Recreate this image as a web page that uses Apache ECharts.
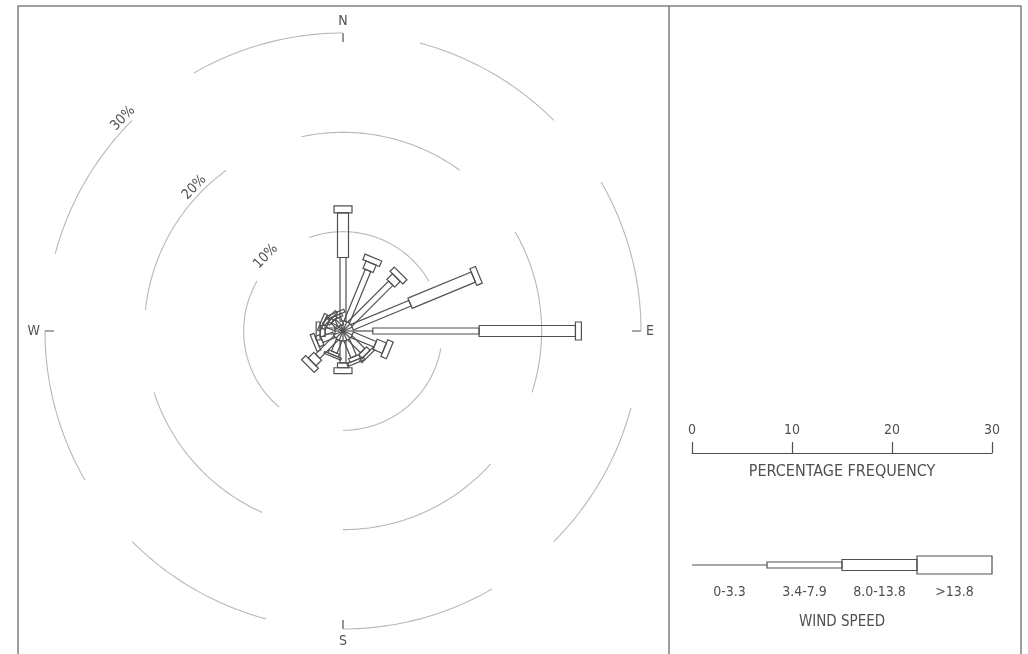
<!DOCTYPE html>
<html>
<head>
<meta charset="utf-8">
<title>Wind rose</title>
<script src="https://cdn.jsdelivr.net/npm/echarts@6/dist/echarts.min.js"></script>
<style>
    html, body { margin: 0; padding: 0; background: #fff; }
    #chart { width: 1028px; height: 654px; }
</style>
</head>
<body>
<div id="chart"></div>
<script>
// 风向 16 方位
const directions = ['N', 'NNE', 'NE', 'ENE', 'E', 'ESE', 'SE', 'SSE', 'S', 'SSW', 'SW', 'WSW', 'W', 'WNW', 'NW', 'NNW'];
// 各风速段频率 (%)
const freq0to33   = [1.0, 1.0, 1.0, 1.0, 3.0, 1.0, 1.0, 1.0, 1.0, 1.0, 1.0, 1.0, 0.8, 0.8, 0.6, 0.6];
const freq34to79  = [6.4, 5.6, 5.8, 6.3, 10.7, 2.5, 1.8, 1.8, 2.2, 1.3, 2.6, 1.3, 1.0, 0.9, 0.8, 0.8];
const freq80to138 = [4.5, 0.8, 0.8, 6.9, 9.7, 1.0, 0.5, 0.4, 0.5, 0.3, 0.8, 0.5, 0.5, 0.4, 0.3, 0.3];
const freqOver138 = [0.7, 0.6, 0.6, 0.6, 0.6, 0.6, 0.3, 0.3, 0.6, 0.2, 0.6, 0.4, 0.4, 0.3, 0.3, 0.3];
const speedClasses = ['0-3.3', '3.4-7.9', '8.0-13.8', '>13.8'];
const ringValues = [10, 20, 30];
const ringLabels = ['10%', '20%', '30%'];
const compassLabels = ['N', 'E', 'S', 'W'];
const scaleTicks = [0, 10, 20, 30];

// 样式
const INK = '#505050';
const RING = '#b8b8b8';
const FONT = "'DejaVu Sans Condensed', 'Liberation Sans Narrow', 'DejaVu Sans', sans-serif";
const classWidth = [1, 6, 11, 18];
const ringArcCount = [3, 5, 8];

// 每个方位按风速段累加
const roseData = [];
const classArrays = [freq0to33, freq34to79, freq80to138, freqOver138];
directions.forEach((d, i) => {
    const angle = i * 360 / directions.length;
    let r0 = 0;
    classArrays.forEach((arr, k) => {
        const r1 = r0 + arr[i];
        roseData.push([r1, angle, r0, k]);
        r0 = r1;
    });
});

//画一段：细线或矩形
function segmentShape(p0, p1, w, k) {
    if (k === 0) {
        return {
            type: 'line',
            shape: {x1: p0[0], y1: p0[1], x2: p1[0], y2: p1[1]},
            style: {stroke: INK, lineWidth: 1.2}
        };
    }
    const dx = p1[0] - p0[0], dy = p1[1] - p0[1];
    const len = Math.hypot(dx, dy) || 1;
    const nx = -dy / len * w / 2, ny = dx / len * w / 2;
    return {
        type: 'polygon',
        shape: {
            points: [
                [p0[0] + nx, p0[1] + ny], [p1[0] + nx, p1[1] + ny],
                [p1[0] - nx, p1[1] - ny], [p0[0] - nx, p0[1] - ny]
            ]
        },
        style: {fill: 'none', stroke: INK, lineWidth: 1.2}
    };
}

const chart = echarts.init(document.getElementById('chart'));

const option = {
    animation: false,
    backgroundColor: '#fff',
    textStyle: {fontFamily: FONT},
    polar: {center: [343, 331], radius: 298},
    angleAxis: {
        type: 'value', min: 0, max: 360, interval: 90,
        startAngle: 90, clockwise: true,
        axisLine: {show: false},
        splitLine: {show: false},
        axisTick: {show: true, inside: true, length: 9, lineStyle: {color: INK, width: 1.2}},
        axisLabel: {
            margin: 5, color: INK, fontSize: 14, fontFamily: FONT,
            formatter: v => (v < 360 ? compassLabels[v / 90] : '')
        }
    },
    radiusAxis: {
        type: 'value', min: 0, max: ringValues[ringValues.length - 1],
        axisLine: {show: false}, axisTick: {show: false},
        axisLabel: {show: false}, splitLine: {show: false}
    },
    grid: [
        {left: 692, width: 300, top: 420, height: 33},
        {left: 692, width: 300, top: 555, height: 20}
    ],
    xAxis: [
        {
            gridIndex: 0, type: 'value',
            min: scaleTicks[0], max: scaleTicks[scaleTicks.length - 1],
            interval: scaleTicks[1] - scaleTicks[0],
            axisLine: {lineStyle: {color: INK, width: 1.2}},
            axisTick: {inside: true, length: 11, lineStyle: {color: INK, width: 1.2}},
            axisLabel: {inside: true, margin: 16, color: INK, fontSize: 14, fontFamily: FONT},
            splitLine: {show: false},
            name: 'PERCENTAGE FREQUENCY', nameLocation: 'middle', nameGap: 11,
            nameTextStyle: {color: INK, fontSize: 16, fontFamily: FONT}
        },
        {
            gridIndex: 1, type: 'category', data: speedClasses, boundaryGap: true,
            axisLine: {show: false}, axisTick: {show: false},
            axisLabel: {interval: 0, margin: 10, color: INK, fontSize: 14, fontFamily: FONT},
            name: 'WIND SPEED', nameLocation: 'middle', nameGap: 40,
            nameTextStyle: {color: INK, fontSize: 15, fontFamily: FONT}
        }
    ],
    yAxis: [
        {gridIndex: 0, type: 'value', show: false, min: 0, max: 1},
        {gridIndex: 1, type: 'value', show: false, min: 0, max: 1}
    ],
    graphic: [
        {type: 'rect', silent: true, shape: {x: 18, y: 6, width: 1003, height: 700},
            style: {fill: null, stroke: '#808080', lineWidth: 1.5}},
        {type: 'line', silent: true, shape: {x1: 669, y1: 6, x2: 669, y2: 660},
            style: {stroke: '#808080', lineWidth: 1.5}}
    ],
    series: [
        {
            // 百分比圈（虚线弧）
            type: 'custom', coordinateSystem: 'polar',
            data: ringValues.map((v, i) => [v, 0, i]),
            encode: {radius: 0, angle: 1},
            renderItem(params, api) {
                const r = api.value(0), idx = api.value(2);
                const n = ringArcCount[idx];
                const period = 360 / n, arcLen = period * 2 / 3;
                const children = [];
                for (let j = 0; j < n; j++) {
                    const end = 180 + j * period;
                    const pts = [];
                    for (let a = end - arcLen; a <= end + 1e-6; a += 1) {
                        pts.push(api.coord([r, ((a % 360) + 360) % 360]));
                    }
                    children.push({type: 'polyline', shape: {points: pts},
                        style: {stroke: RING, fill: null, lineWidth: 1.1}});
                }
                const labelAngle = 314;
                const c = api.coord([0, 0]);
                const p = api.coord([r, labelAngle]);
                const len = Math.hypot(p[0] - c[0], p[1] - c[1]);
                const off = 8;
                children.push({
                    type: 'text',
                    x: p[0] + (p[0] - c[0]) / len * off,
                    y: p[1] + (p[1] - c[1]) / len * off,
                    rotation: (360 - labelAngle) * Math.PI / 180,
                    style: {text: ringLabels[idx], fill: INK, fontSize: 14, fontFamily: FONT,
                        align: 'center', verticalAlign: 'middle'}
                });
                return {type: 'group', children: children};
            },
            silent: true
        },
        {
            // 风玫瑰
            type: 'custom', coordinateSystem: 'polar',
            data: roseData,
            encode: {radius: 0, angle: 1},
            renderItem(params, api) {
                const r1 = api.value(0), angle = api.value(1), r0 = api.value(2), k = api.value(3);
                if (r1 <= r0) return;
                const p0 = api.coord([r0, angle]);
                const p1 = api.coord([r1, angle]);
                return segmentShape(p0, p1, classWidth[k], k);
            },
            silent: true
        },
        {
            // 风速图例
            type: 'custom', xAxisIndex: 1, yAxisIndex: 1,
            data: speedClasses.map((c, i) => [i, 0.5, i]),
            encode: {x: 0, y: 1},
            renderItem(params, api) {
                const k = api.value(2);
                const c = api.coord([api.value(0), 0.5]);
                const bw = api.size([1, 0])[0];
                return segmentShape([c[0] - bw / 2, c[1]], [c[0] + bw / 2, c[1]], classWidth[k], k);
            },
            silent: true
        }
    ]
};

chart.setOption(option);
</script>
</body>
</html>
